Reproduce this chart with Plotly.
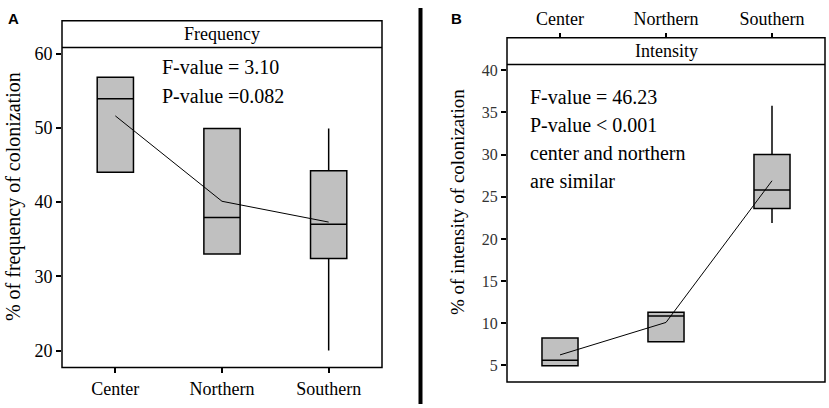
import plotly.graph_objects as go

# --- data ---
regions = ["Center", "Northern", "Southern"]

freq_q1 = [44.0, 33.0, 32.4]
freq_median = [53.9, 37.9, 37.0]
freq_q3 = [56.8, 49.9, 44.2]
freq_low = [44.0, 33.0, 20.0]
freq_high = [56.8, 49.9, 49.9]
freq_mean = [51.6, 40.1, 37.3]

int_q1 = [4.95, 7.8, 23.6]
int_median = [5.6, 10.85, 25.8]
int_q3 = [8.25, 11.3, 30.0]
int_low = [4.95, 7.8, 21.9]
int_high = [8.25, 11.3, 35.8]
int_mean = [6.25, 10.1, 26.9]

freq_ticks = [20, 30, 40, 50, 60]
int_ticks = [5, 10, 15, 20, 25, 30, 35, 40]

freq_notes = ["F-value = 3.10", "P-value =0.082"]
int_notes = ["F-value = 46.23", "P-value < 0.001", "center and northern", "are similar"]

W, H = 829, 408
SERIF = "Liberation Serif, DejaVu Serif, serif"
BOX_FILL = "#c0c0c0"


def px(x):
    return x / W


def py(y):
    return (H - y) / H


def note(x, y, text, size, xanchor="center", angle=0, family=SERIF, color="black"):
    return dict(xref="paper", yref="paper", x=px(x), y=py(y), text=text,
                xanchor=xanchor, yanchor="middle", textangle=angle,
                showarrow=False, font=dict(family=family, size=size, color=color))


xpos = [1, 2, 3]

fig = go.Figure()

# --- panel A: frequency ---
fig.add_trace(go.Box(
    x=xpos, q1=freq_q1, median=freq_median, q3=freq_q3,
    lowerfence=freq_low, upperfence=freq_high,
    width=0.34, fillcolor=BOX_FILL, line=dict(color="black", width=1.5),
    whiskerwidth=0, boxpoints=False, showlegend=False,
    xaxis="x", yaxis="y",
))
fig.add_trace(go.Scatter(
    x=xpos, y=freq_mean, mode="lines", line=dict(color="black", width=1),
    showlegend=False, xaxis="x", yaxis="y",
))

# --- panel B: intensity ---
fig.add_trace(go.Box(
    x=xpos, q1=int_q1, median=int_median, q3=int_q3,
    lowerfence=int_low, upperfence=int_high,
    width=0.34, fillcolor=BOX_FILL, line=dict(color="black", width=1.5),
    whiskerwidth=0, boxpoints=False, showlegend=False,
    xaxis="x2", yaxis="y2",
))
fig.add_trace(go.Scatter(
    x=xpos, y=int_mean, mode="lines", line=dict(color="black", width=1),
    showlegend=False, xaxis="x2", yaxis="y2",
))

# pixel geometry of the two frames
A = dict(x0=62, x1=382, top=17, strip=44, bottom=367)
B = dict(x0=507, x1=825, top=34, strip=61, bottom=381.7)

tickfont_a = dict(family=SERIF, size=18, color="black")
tickfont_b = dict(family=SERIF, size=16, color="#333333")

fig.update_layout(
    width=W, height=H,
    margin=dict(l=0, r=0, t=0, b=0),
    paper_bgcolor="white", plot_bgcolor="white",
    xaxis=dict(
        domain=[px(A["x0"]), px(A["x1"])], range=[0.5, 3.5],
        tickvals=xpos, ticktext=regions, ticks="outside", ticklen=5,
        tickwidth=1.5, tickcolor="black", showgrid=False, zeroline=False,
        showline=False, tickfont=tickfont_a, anchor="y",
    ),
    yaxis=dict(
        domain=[py(A["bottom"]), py(A["strip"])], range=[17.73, 60.8],
        tickvals=freq_ticks, ticks="outside", ticklen=5, tickwidth=1.5,
        tickcolor="black", showgrid=False, zeroline=False, showline=False,
        tickfont=tickfont_a, anchor="x",
    ),
    xaxis2=dict(
        domain=[px(B["x0"]), px(B["x1"])], range=[0.5, 3.5],
        tickvals=xpos, ticktext=regions, ticks="outside", ticklen=5,
        tickwidth=1.5, tickcolor="black", showgrid=False, zeroline=False,
        showline=False, tickfont=dict(family=SERIF, size=18, color="black"),
        side="top", anchor="free", position=py(B["top"]),
    ),
    yaxis2=dict(
        domain=[py(B["bottom"]), py(B["strip"])], range=[3.04, 40.7],
        tickvals=int_ticks, ticks="outside", ticklen=5, tickwidth=1.5,
        tickcolor="black", showgrid=False, zeroline=False, showline=False,
        tickfont=tickfont_b, anchor="x2",
    ),
)

shapes = []
annotations = []
for P, label in ((A, "Frequency"), (B, "Intensity")):
    shapes.append(dict(type="rect", xref="paper", yref="paper",
                       x0=px(P["x0"]), x1=px(P["x1"]),
                       y0=py(P["bottom"]), y1=py(P["top"]),
                       line=dict(color="black", width=1.5)))
    shapes.append(dict(type="line", xref="paper", yref="paper",
                       x0=px(P["x0"]), x1=px(P["x1"]),
                       y0=py(P["strip"]), y1=py(P["strip"]),
                       line=dict(color="black", width=1.5)))
    annotations.append(note((P["x0"] + P["x1"]) / 2, (P["top"] + P["strip"]) / 2,
                            label, 18))

# divider between panels
shapes.append(dict(type="line", xref="paper", yref="paper",
                   x0=px(420.5), x1=px(420.5), y0=py(404), y1=py(4),
                   line=dict(color="black", width=4)))

# panel letters
annotations.append(note(13, 15, "<b>A</b>", 15, family="Liberation Sans, Arial"))
annotations.append(note(457, 15, "<b>B</b>", 15, family="Liberation Sans, Arial"))

# y titles
annotations.append(note(13, 195, "% of frequency of colonization", 20, angle=-90))
annotations.append(note(457, 200, "% of intensity of colonization", 19, angle=-90))

# stats text
for i, t in enumerate(freq_notes):
    annotations.append(note(160, 64 + i * 28.7, t, 20, xanchor="left"))
for i, t in enumerate(int_notes):
    annotations.append(note(528, 94.3 + i * 28.2, t, 20, xanchor="left"))

fig.update_layout(shapes=shapes, annotations=annotations)

fig.write_html("out.html", config={"displayModeBar": False},
               post_script="document.body.style.margin='0';")
